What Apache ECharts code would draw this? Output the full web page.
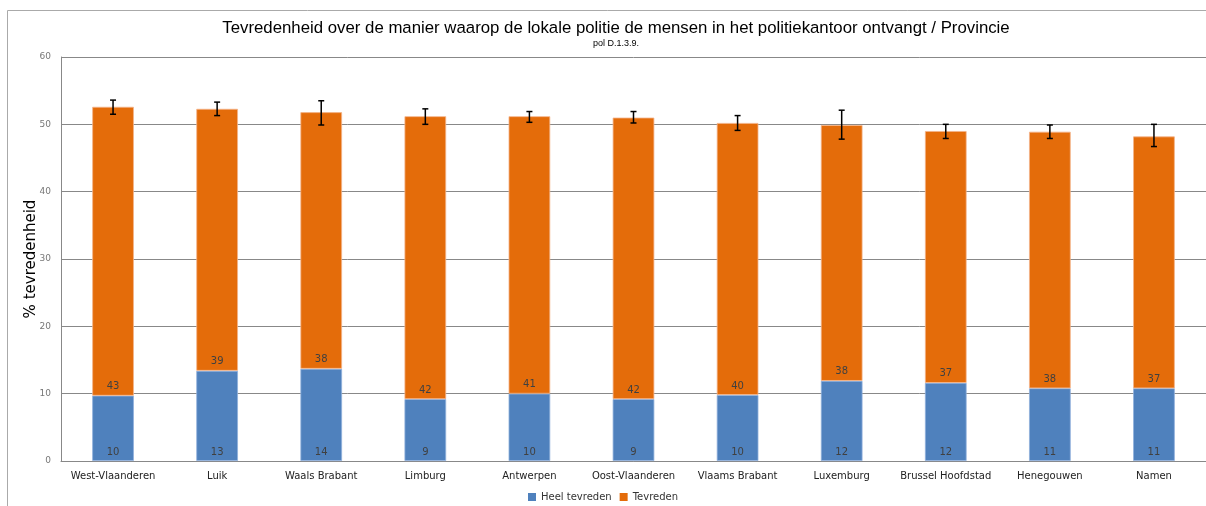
<!DOCTYPE html>
<html><head><meta charset="utf-8">
<script src="https://cdn.jsdelivr.net/npm/echarts@6/dist/echarts.min.js"></script>
<style>html,body{margin:0;padding:0;background:#fff}#c{width:1206px;height:506px}</style>
</head><body><div id="c"></div>
<script>
const categories = ['West-Vlaanderen','Luik','Waals Brabant','Limburg','Antwerpen','Oost-Vlaanderen','Vlaams Brabant','Luxemburg','Brussel Hoofdstad','Henegouwen','Namen'];
const heelTevreden = [9.7, 13.4, 13.7, 9.2, 10.0, 9.2, 9.8, 11.9, 11.6, 10.8, 10.8];
const tevreden = [42.9, 38.9, 38.1, 42.0, 41.2, 41.8, 40.4, 38.0, 37.4, 38.1, 37.4];
const errLow = [51.5, 51.3, 49.9, 50.0, 50.3, 50.2, 49.1, 47.8, 47.9, 47.9, 46.7];
const errHigh = [53.6, 53.3, 53.5, 52.3, 51.9, 51.9, 51.3, 52.1, 50.0, 49.9, 50.0];
const yTicks = [0, 10, 20, 30, 40, 50, 60];

const chart = echarts.init(document.getElementById('c'));
const lbl = {show:true, position:'insideBottom', distance:4, color:'#404040', fontSize:10, fontFamily:'DejaVu Sans', formatter:p=>Math.round(p.value)};
chart.setOption({
  animation:false,
  title:{text:'Tevredenheid over de manier waarop de lokale politie de mensen in het politiekantoor ontvangt / Provincie',
    subtext:'pol D.1.3.9.', left:611, textAlign:'center', top:15, itemGap:2,
    textStyle:{fontSize:16.8, fontWeight:'normal', color:'#000', fontFamily:'Liberation Sans'},
    subtextStyle:{fontSize:9, color:'#000', fontFamily:'Liberation Sans'}},
  graphic:[{type:'rect', shape:{x:7.5, y:10.5, width:1300, height:600}, style:{fill:'none', stroke:'#aaa', lineWidth:1}, silent:true}],
  legend:{data:['Heel tevreden','Tevreden'], bottom:-1, left:'center', itemWidth:8, itemHeight:8, itemGap:8,
    itemStyle:{borderWidth:0},
    textStyle:{fontSize:10, color:'#333', fontFamily:'DejaVu Sans'}, icon:'rect'},
  grid:{left:61, right:0, top:57, bottom:45},
  xAxis:{type:'category', data:categories, axisTick:{show:false},
    axisLine:{lineStyle:{color:'#888'}},
    axisLabel:{color:'#222', fontSize:10, fontFamily:'DejaVu Sans', margin:10, interval:0}},
  yAxis:{type:'value', min:0, max:60, interval:10, name:'% tevredenheid', nameLocation:'middle', nameGap:22,
    nameMoveOverlap:false,
    nameTextStyle:{fontSize:15, color:'#000', fontFamily:'DejaVu Sans'},
    axisLine:{show:true, lineStyle:{color:'#888'}}, axisTick:{show:false},
    axisLabel:{color:'#777', fontSize:9, fontFamily:'DejaVu Sans', margin:10, formatter:v=>yTicks.includes(v)?v:''},
    splitLine:{lineStyle:{color:'#888', width:1}}},
  series:[
    {name:'Heel tevreden', type:'bar', stack:'t', data:heelTevreden, barWidth:'40%',
      itemStyle:{color:'#4f81bd', borderColor:'#8fb0dc', borderWidth:0.8}, label:lbl},
    {name:'Tevreden', type:'bar', stack:'t', data:tevreden, barWidth:'40%',
      itemStyle:{color:'#e46c0a', borderColor:'#f4b48a', borderWidth:0.8}, label:lbl},
    {type:'custom', name:'err', data:categories.map((c,i)=>[i, errLow[i], errHigh[i]]),
      z:10, silent:true,
      renderItem:(params, api)=>{
        const lo = api.coord([api.value(0), api.value(1)]);
        const hi = api.coord([api.value(0), api.value(2)]);
        const w = 3;
        const st = {stroke:'#000', lineWidth:1.5};
        return {type:'group', children:[
          {type:'line', shape:{x1:lo[0], y1:lo[1], x2:hi[0], y2:hi[1]}, style:st},
          {type:'line', shape:{x1:lo[0]-w, y1:lo[1], x2:lo[0]+w, y2:lo[1]}, style:st},
          {type:'line', shape:{x1:hi[0]-w, y1:hi[1], x2:hi[0]+w, y2:hi[1]}, style:st}
        ]};
      }}
  ]
});
</script></body></html>
